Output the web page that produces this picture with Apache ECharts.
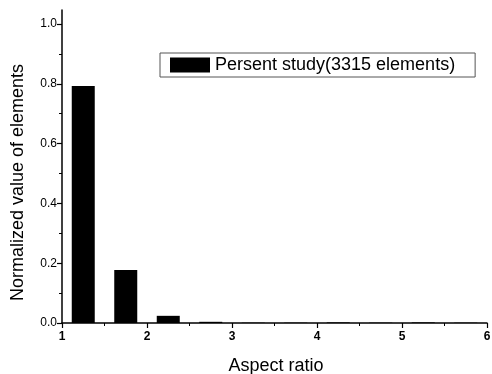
<!DOCTYPE html>
<html>
<head>
<meta charset="utf-8">
<script src="https://cdn.jsdelivr.net/npm/echarts@6/dist/echarts.min.js"></script>
<style>html,body{margin:0;padding:0;background:#fff}#c{width:492px;height:374px}</style>
</head>
<body>
<div id="c"></div>
<script>
// Data
var binCenters = [1.25, 1.75, 2.25, 2.75, 3.25, 3.75, 4.25, 4.75, 5.25, 5.75];
var normalizedValues = [0.793, 0.177, 0.024, 0.004, 0.001, 0.001, 0.002, 0.001, 0.002, 0.001];
var yTicks = [0, 0.2, 0.4, 0.6, 0.8, 1.0];
var xTicks = [1, 2, 3, 4, 5, 6];
var seriesName = 'Persent study(3315 elements)';

var font = 'Liberation Sans, Arial, sans-serif';
var chart = echarts.init(document.getElementById('c'), null, {renderer: 'canvas'});
chart.setOption({
  animation: false,
  backgroundColor: '#fff',
  grid: {left: 62, right: 5, top: 10, bottom: 51, containLabel: false, outerBoundsMode: 'none'},
  legend: {
    data: [seriesName],
    left: 160, top: 53,
    itemWidth: 40, itemHeight: 15,
    padding: [3, 20, 3, 10],
    borderColor: '#555', borderWidth: 1,
    textStyle: {fontFamily: font, fontSize: 18, color: '#000'},
    icon: 'rect'
  },
  xAxis: {
    type: 'value', min: 1, max: 6, interval: 1,
    name: 'Aspect ratio', nameLocation: 'middle', nameGap: 34,
    nameTextStyle: {fontFamily: font, fontSize: 18, color: '#000', padding: [0, 0, 0, 3]},
    axisLine: {lineStyle: {color: '#000', width: 1.5}},
    axisTick: {show: true, length: 5, lineStyle: {color: '#000', width: 1.2}, customValues: xTicks},
    minorTick: {show: true, splitNumber: 2, length: 3, lineStyle: {color: '#000'}},
    axisLabel: {fontFamily: font, fontSize: 12, color: '#000', fontWeight: 'bold', margin: 8, customValues: xTicks, formatter: function(v){return String(v);}},
    splitLine: {show: false}
  },
  yAxis: {
    type: 'value', min: 0, max: 1.047,
    name: 'Normalized value of elements', nameLocation: 'middle', nameGap: 35,
    nameTextStyle: {fontFamily: font, fontSize: 18, color: '#000', padding: [0, 32, 0, 0]},
    axisLine: {show: true, lineStyle: {color: '#000', width: 1.5}},
    axisTick: {show: true, length: 5, lineStyle: {color: '#000', width: 1.2}, customValues: yTicks},
    minorTick: {show: true, splitNumber: 2, length: 3, lineStyle: {color: '#000'}},
    axisLabel: {fontFamily: font, fontSize: 12, color: '#000', margin: 5, customValues: yTicks, formatter: function(v){return v.toFixed(1);}},
    splitLine: {show: false},
    interval: 0.2
  },
  series: [{
    name: seriesName,
    type: 'bar',
    barWidth: 23,
    itemStyle: {color: '#000'},
    data: binCenters.map(function(x, i){ return [x, normalizedValues[i]]; })
  }]
});
</script>
</body>
</html>
